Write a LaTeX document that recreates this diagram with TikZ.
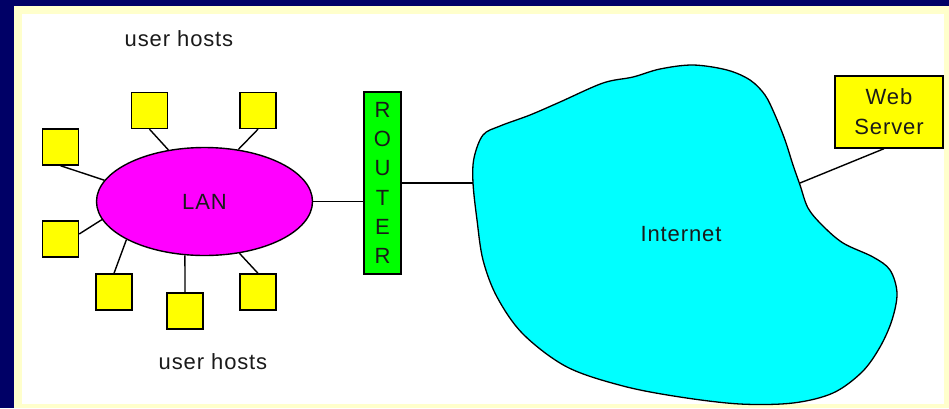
\documentclass[tikz,border=0pt]{standalone}
\usepackage{fontspec}
\setmainfont{Liberation Sans}[LetterSpace=4]
\usetikzlibrary{shapes.geometric}
\definecolor{navy}{HTML}{000066}
\definecolor{cream}{HTML}{FFFFCC}
\definecolor{hostyellow}{HTML}{FFFF00}
\definecolor{lanpink}{HTML}{FF00FF}
\definecolor{routergreen}{HTML}{00FF00}
\definecolor{netcyan}{HTML}{00FFFF}
\definecolor{inkgray}{HTML}{1A1A1A}
\begin{document}
\begin{tikzpicture}[x=1pt,y=-1pt,
  lbl/.style={font=\fontsize{22}{30}\selectfont, text=inkgray, inner sep=0pt},
  host/.style={draw=black, line width=1.4pt, fill=hostyellow,
    minimum width=36pt, minimum height=36pt, inner sep=0pt},
  link/.style={draw=black, line width=1.4pt},
  box/.style={draw=black, line width=1.4pt, inner sep=0pt, align=center, text=inkgray}]

% slide frame
\fill[navy] (0,0) rectangle (949,408);
\fill[cream] (14,6) rectangle (949,408);
\fill[white] (22,14) rectangle (944,404);
\useasboundingbox (0,0) rectangle (949,408);

% the Internet cloud
\draw[fill=netcyan, line width=1.3pt] plot[smooth cycle, tension=0.55] coordinates {
  (473,183) (474,158) (483,135) (500,126) (530,115) (560,102) (603,83)
  (633,77) (660,69) (693,65) (727,70) (750,80) (765,95) (775,115)
  (785,140) (793,165) (800,185) (808,208) (822,225) (843,243) (873,257)
  (890,270) (897,293) (892,320) (880,347) (862,372) (833,393) (793,403)
  (740,404) (680,397) (623,386) (567,367) (523,334) (497,297) (483,260)
  (477,220)};
\node[lbl] (inet) at (681,234) {Internet};
\coordinate (inetW) at (473,183);
\coordinate (inetE) at (800,183);

% LAN and its hosts
\node[draw=black, line width=1.4pt, ellipse, fill=lanpink, minimum width=216pt,
  minimum height=108pt, inner sep=0pt, text=inkgray,
  font=\fontsize{22}{30}\selectfont] (lan) at (204.5,201.5) {LAN};

\node[host] (h1) at (149.5,110.5) {};
\node[host] (h2) at (258,110.5) {};
\node[host] (h3) at (60.5,147) {};
\node[host] (h4) at (60.5,239) {};
\node[host] (h5) at (114,292) {};
\node[host] (h6) at (185,311) {};
\node[host] (h7) at (258,292) {};

\draw[link] (h1.south) -- (lan.125);
\draw[link] (h2.south) -- (lan.57);
\draw[link] (h3.south) -- (lan.168);
\draw[link] (h4.15) -- (lan.190);
\draw[link] (h5.north) -- (lan.206);
\draw[link] (h6.north) -- (lan.250);
\draw[link] (h7.north) -- (lan.304);

\node[lbl] (uhtop) at (179,39) {user hosts};
\node[lbl] (uhbot) at (213,362) {user hosts};

% router
\node[box, fill=routergreen, minimum width=37pt, minimum height=182pt,
  font=\fontsize{22}{29.3}\selectfont] (router) at (382.5,183) {R\\O\\U\\T\\E\\R};

% web server
\node[box, fill=hostyellow, minimum width=108pt, minimum height=72pt,
  font=\fontsize{22}{30}\selectfont] (web) at (889,112) {Web\\Server};

% links
\draw[link] (lan.east) -- (lan.east -| router.west);
\draw[link] (router.east) -- (inetW);
\draw[link] ([xshift=-5pt]web.south) -- (inetE);
\end{tikzpicture}
\end{document}
